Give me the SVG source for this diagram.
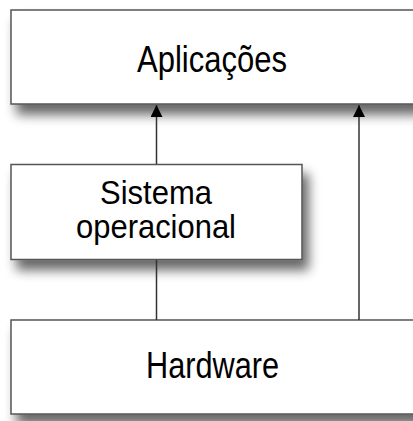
<svg xmlns="http://www.w3.org/2000/svg" width="413" height="421" viewBox="0 0 413 421">
<style>
.box{fill:#fff;stroke:#555;stroke-width:1.5}
.lbl{font-family:"Liberation Sans",Arial,sans-serif;font-size:36px;fill:#000;text-anchor:middle}
.lbl2{font-size:33px}
.conn{stroke:#333;stroke-width:1.5;fill:none}
</style>
<defs>
<filter id="sh" x="-20%" y="-30%" width="140%" height="170%">
<feGaussianBlur in="SourceAlpha" stdDeviation="6"/>
<feOffset dx="6" dy="10" result="b"/>
<feComponentTransfer><feFuncA type="linear" slope="0.6"/></feComponentTransfer>
<feMerge><feMergeNode/><feMergeNode in="SourceGraphic"/></feMerge>
</filter>
<marker id="ah" viewBox="0 0 12 12" refX="12" refY="6" markerWidth="12" markerHeight="12" markerUnits="userSpaceOnUse" orient="auto">
<path d="M0,0 L12,6 L0,12 Z" fill="#000"/>
</marker>
</defs>
<g id="aplicacoes">
<rect class="box" x="11" y="10" width="420" height="94" filter="url(#sh)"/>
<text class="lbl" x="212" y="72" textLength="150" lengthAdjust="spacingAndGlyphs">Aplicações</text>
</g>
<g id="sistema">
<rect class="box" x="11" y="164.5" width="291" height="95" filter="url(#sh)"/>
<text class="lbl lbl2" x="156" y="204" textLength="112" lengthAdjust="spacingAndGlyphs">Sistema</text>
<text class="lbl lbl2" x="156" y="238" textLength="160" lengthAdjust="spacingAndGlyphs">operacional</text>
</g>
<g id="hardware">
<rect class="box" x="11" y="320" width="420" height="94" filter="url(#sh)"/>
<text class="lbl" x="212.5" y="378" textLength="133" lengthAdjust="spacingAndGlyphs">Hardware</text>
</g>
<g id="connectors">
<line class="conn" x1="156.5" y1="320" x2="156.5" y2="260"/>
<line class="conn" x1="156.5" y1="164" x2="156.5" y2="105" marker-end="url(#ah)"/>
<line class="conn" x1="359" y1="320" x2="359" y2="105" marker-end="url(#ah)"/>
</g>
</svg>
